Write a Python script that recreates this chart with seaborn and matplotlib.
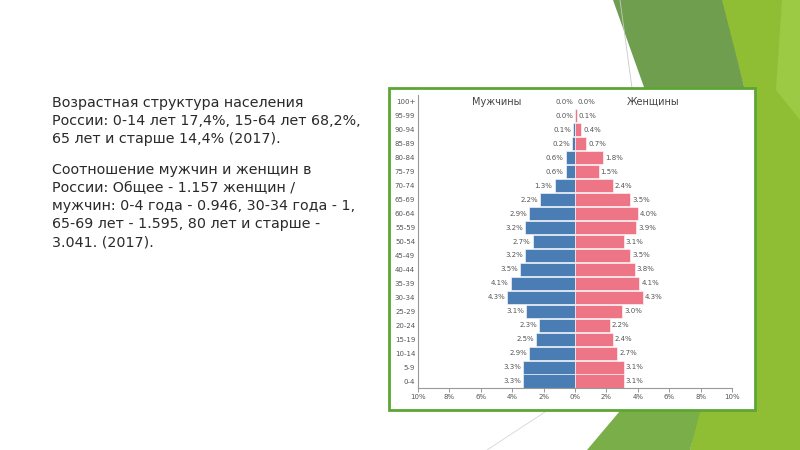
import matplotlib
matplotlib.use('Agg')
import matplotlib.pyplot as plt
import numpy as np
import pandas as pd
import seaborn as sns
from matplotlib.patches import Polygon, Rectangle

# age groups, top to bottom
ages = ['100+', '95-99', '90-94', '85-89', '80-84', '75-79', '70-74', '65-69',
        '60-64', '55-59', '50-54', '45-49', '40-44', '35-39', '30-34', '25-29',
        '20-24', '15-19', '10-14', '5-9', '0-4']
male = [0.0, 0.0, 0.1, 0.2, 0.6, 0.6, 1.3, 2.2, 2.9, 3.2, 2.7, 3.2, 3.5, 4.1,
        4.3, 3.1, 2.3, 2.5, 2.9, 3.3, 3.3]
female = [0.0, 0.1, 0.4, 0.7, 1.8, 1.5, 2.4, 3.5, 4.0, 3.9, 3.1, 3.5, 3.8, 4.1,
          4.3, 3.0, 2.2, 2.4, 2.7, 3.1, 3.1]
xticks = [-10, -8, -6, -4, -2, 0, 2, 4, 6, 8, 10]
xlabels = ['10%', '8%', '6%', '4%', '2%', '0%', '2%', '4%', '6%', '8%', '10%']

text1 = ('Возрастная структура населения\n'
         'России: 0-14 лет 17,4%, 15-64 лет 68,2%,\n'
         '65 лет и старше 14,4% (2017).')
text2 = ('Соотношение мужчин и женщин в\n'
         'России: Общее - 1.157 женщин /\n'
         'мужчин: 0-4 года - 0.946, 30-34 года - 1,\n'
         '65-69 лет - 1.595, 80 лет и старше -\n'
         '3.041. (2017).')

df = pd.DataFrame({'age': ages, 'male': male, 'female': female})
df['male_neg'] = -df['male']

sns.set_theme(style='white')
plt.rcParams['font.family'] = ['DejaVu Sans']

fig = plt.figure(figsize=(8, 4.5), dpi=100)
fig.patch.set_facecolor('white')

W, H = 800.0, 450.0
def px(pts):
    return [(x / W, 1 - y / H) for x, y in pts]

# slide background shapes
bg = [
    ('#8fbe34', [(720, 0), (800, 0), (800, 450), (690, 450), (700, 405), (745, 90)]),
    ('#9dca45', [(782, 0), (800, 0), (800, 120), (776, 90)]),
    ('#6f9e4e', [(613, 0), (722, 0), (745, 90), (645, 90)]),
    ('#79ae48', [(587, 450), (625, 405), (702, 405), (690, 450)]),
]
for col, pts in bg:
    fig.add_artist(Polygon(px(pts), closed=True, facecolor=col, edgecolor='none',
                           transform=fig.transFigure, zorder=0))
fig.add_artist(plt.Line2D([620 / W, 632 / W], [1, 1 - 88 / H], color='#c8c8c8',
                          lw=0.6, transform=fig.transFigure, zorder=0))
fig.add_artist(plt.Line2D([548 / W, 487 / W], [1 - 410 / H, 0], color='#d5d5d5',
                          lw=0.6, transform=fig.transFigure, zorder=0))

# chart frame
fig.add_artist(Rectangle((389 / W, 1 - 410 / H), 366 / W, 322 / H,
                         facecolor='white', edgecolor='#5ea634', lw=2,
                         transform=fig.transFigure, zorder=1))

fig.text(52 / W, 1 - 96 / H, text1, fontsize=10.3, color='#2a2a2a',
         va='top', ha='left', linespacing=1.37)
fig.text(52 / W, 1 - 163 / H, text2, fontsize=10.3, color='#2a2a2a',
         va='top', ha='left', linespacing=1.37)

ax = fig.add_axes([418 / W, 1 - 388 / H, 314 / W, 293 / H])
ax.set_zorder(2)
ax.patch.set_alpha(0)

sns.barplot(data=df, x='male_neg', y='age', order=ages, color='#4a7db4',
            orient='h', width=0.94, edgecolor='white', linewidth=0.4,
            saturation=1, ax=ax)
sns.barplot(data=df, x='female', y='age', order=ages, color='#ee7585',
            orient='h', width=0.94, edgecolor='white', linewidth=0.4,
            saturation=1, ax=ax)

for i, (m, f) in enumerate(zip(male, female)):
    ax.text(-m - 0.13, i, f'{m:.1f}%', ha='right', va='center', fontsize=5,
            color='#555555')
    ax.text(f + 0.13, i, f'{f:.1f}%', ha='left', va='center', fontsize=5,
            color='#555555')

ax.text(-5, 0, 'Мужчины', ha='center', va='center', fontsize=7, color='#444444')
ax.text(5, 0, 'Женщины', ha='center', va='center', fontsize=7, color='#444444')

ax.set_xlim(-10, 10)
ax.set_ylim(20.5, -0.5)
ax.set_xticks(xticks)
ax.set_xticklabels(xlabels)
ax.set_xlabel('')
ax.set_ylabel('')
ax.tick_params(axis='x', length=3, width=0.6, color='#888888', labelsize=5,
               labelcolor='#555555', pad=1.5, bottom=True)
ax.tick_params(axis='y', length=0, labelsize=5, labelcolor='#555555', pad=2)
for s in ['top', 'right']:
    ax.spines[s].set_visible(False)
for s in ['left', 'bottom']:
    ax.spines[s].set_color('#999999')
    ax.spines[s].set_linewidth(0.8)

fig.savefig('out.png', dpi=100)
